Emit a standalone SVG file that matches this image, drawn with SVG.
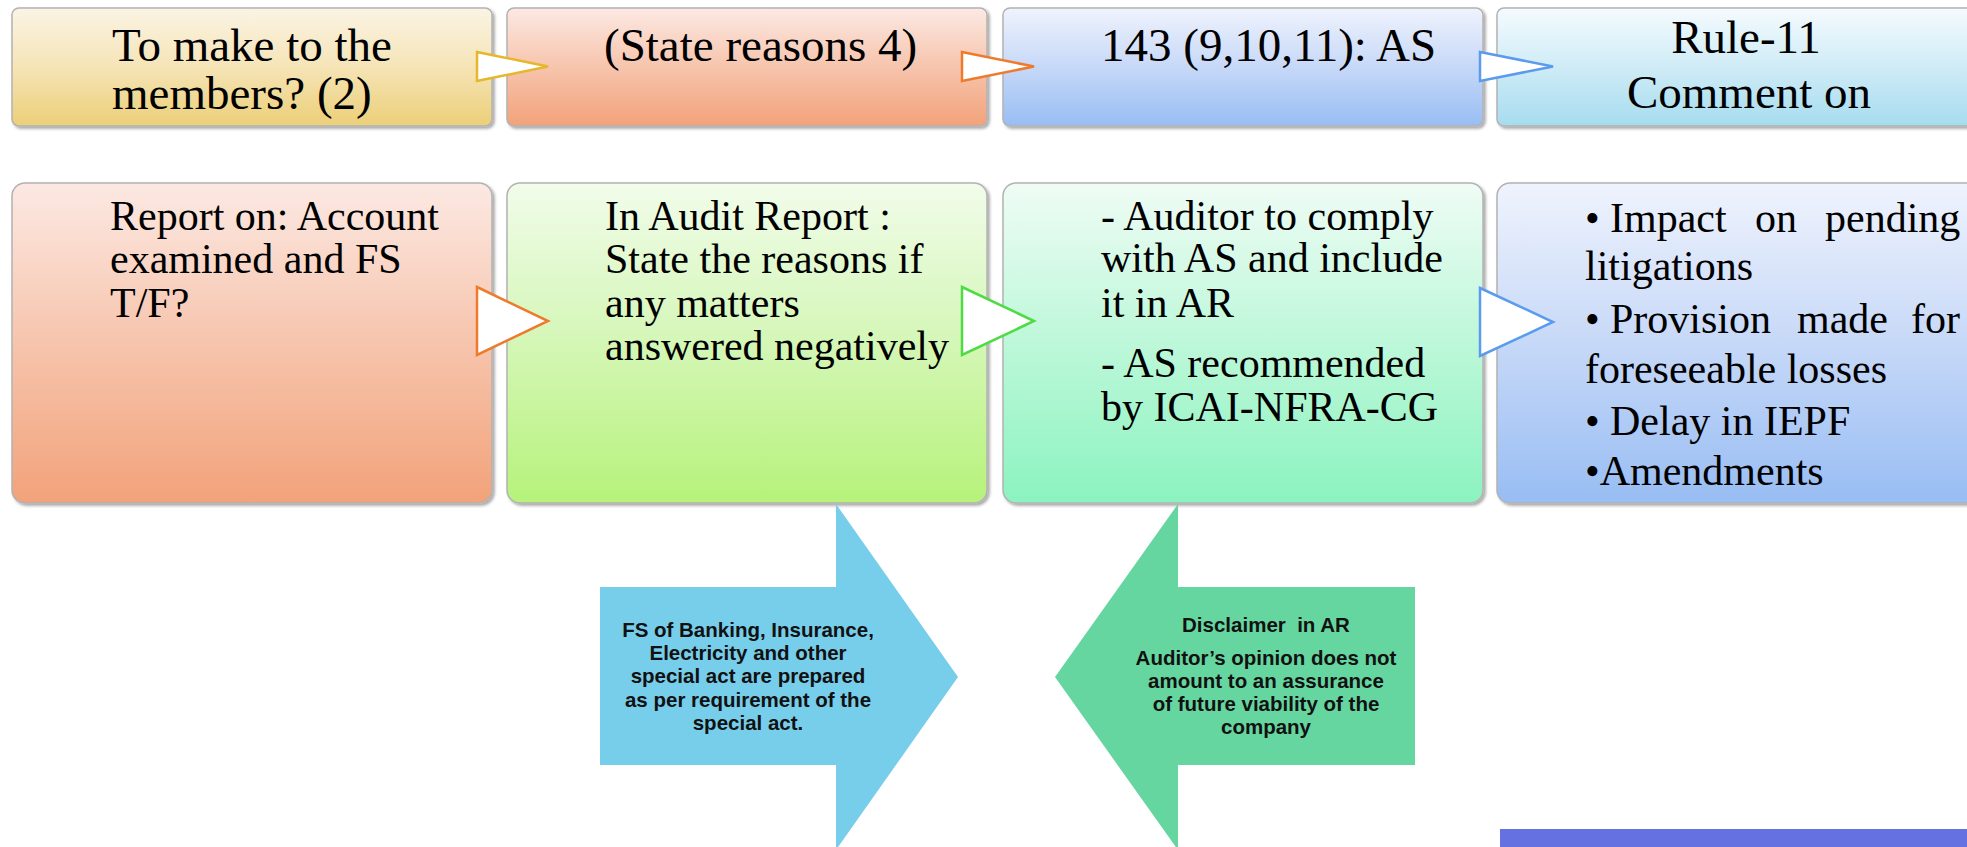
<svg xmlns="http://www.w3.org/2000/svg" width="1967" height="847" viewBox="0 0 1967 847">
  <defs>
    <filter id="shadow" x="-5%" y="-5%" width="110%" height="115%">
      <feDropShadow dx="2" dy="2" stdDeviation="1.5" flood-color="#000" flood-opacity="0.35"/>
    </filter>
    <linearGradient id="gYellow" x1="0" y1="0" x2="0" y2="1">
      <stop offset="0" stop-color="#FBF4E4"/>
      <stop offset="0.45" stop-color="#F6E6BC"/>
      <stop offset="1" stop-color="#ECCF78"/>
    </linearGradient>
    <linearGradient id="gSalmon" x1="0" y1="0" x2="0" y2="1">
      <stop offset="0" stop-color="#FCE9E3"/>
      <stop offset="0.45" stop-color="#F7C8B2"/>
      <stop offset="1" stop-color="#F2A27A"/>
    </linearGradient>
    <linearGradient id="gBlue" x1="0" y1="0" x2="0" y2="1">
      <stop offset="0" stop-color="#EFF3FD"/>
      <stop offset="0.45" stop-color="#CBDBF8"/>
      <stop offset="1" stop-color="#98BDF3"/>
    </linearGradient>
    <linearGradient id="gCyan" x1="0" y1="0" x2="0" y2="1">
      <stop offset="0" stop-color="#F5FBFE"/>
      <stop offset="0.45" stop-color="#D3EDF7"/>
      <stop offset="1" stop-color="#A6DCEF"/>
    </linearGradient>
    <linearGradient id="gGreen" x1="0" y1="0" x2="0" y2="1">
      <stop offset="0" stop-color="#F1FCEA"/>
      <stop offset="0.45" stop-color="#D7F7BC"/>
      <stop offset="1" stop-color="#B6F27A"/>
    </linearGradient>
    <linearGradient id="gMint" x1="0" y1="0" x2="0" y2="1">
      <stop offset="0" stop-color="#EFFCF5"/>
      <stop offset="0.45" stop-color="#C2F8DC"/>
      <stop offset="1" stop-color="#8BF3BF"/>
    </linearGradient>
    <style>
      .box { stroke: #B2B2B2; stroke-width: 1.5; filter: url(#shadow); }
      .serif { font-family: "Liberation Serif", "Times New Roman", serif; fill: #000; }
      .t1 { font-size: 47px; }
      .t2 { font-size: 42px; }
      .chev { fill: #FFFFFF; stroke-width: 2.5; stroke-linejoin: miter; }
      .sans { font-family: "Liberation Sans", Arial, sans-serif; font-weight: bold; fill: #111; font-size: 20.5px; text-anchor: middle; }
      .pre { white-space: pre; }
    </style>
  </defs>

  <rect width="1967" height="847" fill="#FFFFFF"/>

  <!-- upper row -->
  <g id="node-members">
    <rect class="box" x="12" y="8" width="480" height="118" rx="7" fill="url(#gYellow)"/>
    <text class="serif t1" x="112" y="61">To make to the</text>
    <text class="serif t1" x="112" y="109">members? (2)</text>
  </g>
  <g id="node-state-reasons">
    <rect class="box" x="507" y="8" width="480" height="118" rx="7" fill="url(#gSalmon)"/>
    <text class="serif t1" x="604" y="61">(State reasons 4)</text>
  </g>
  <g id="node-143">
    <rect class="box" x="1003" y="8" width="480" height="118" rx="7" fill="url(#gBlue)"/>
    <text class="serif t1" x="1101" y="61">143 (9,10,11): AS</text>
  </g>
  <g id="node-rule11">
    <rect class="box" x="1497" y="8" width="490" height="118" rx="7" fill="url(#gCyan)"/>
    <text class="serif t1" x="1746" y="53" text-anchor="middle">Rule-11</text>
    <text class="serif t1" x="1749" y="108" text-anchor="middle">Comment on</text>
  </g>

  <!-- lower row -->
  <g id="node-report-on">
    <rect class="box" x="12" y="183" width="480" height="320" rx="13" fill="url(#gSalmon)"/>
    <text class="serif t2" x="110" y="230">Report on: Account</text>
    <text class="serif t2" x="110" y="273">examined and FS</text>
    <text class="serif t2" x="110" y="317">T/F?</text>
  </g>
  <g id="node-audit-report">
    <rect class="box" x="507" y="183" width="480" height="320" rx="13" fill="url(#gGreen)"/>
    <text class="serif t2" x="605" y="230">In Audit Report :</text>
    <text class="serif t2" x="605" y="273">State the reasons if</text>
    <text class="serif t2" x="605" y="317">any matters</text>
    <text class="serif t2" x="605" y="360">answered negatively</text>
  </g>
  <g id="node-auditor-comply">
    <rect class="box" x="1003" y="183" width="480" height="320" rx="13" fill="url(#gMint)"/>
    <text class="serif t2" x="1101" y="230">- Auditor to comply</text>
    <text class="serif t2" x="1101" y="272">with AS and include</text>
    <text class="serif t2" x="1101" y="317">it in AR</text>
    <text class="serif t2" x="1101" y="377">- AS recommended</text>
    <text class="serif t2" x="1101" y="421">by ICAI-NFRA-CG</text>
  </g>
  <g id="node-comments">
    <rect class="box" x="1497" y="183" width="490" height="320" rx="13" fill="url(#gBlue)"/>
    <text class="serif t2" y="232"><tspan x="1585">•</tspan><tspan x="1610">Impact</tspan><tspan x="1755">on</tspan><tspan x="1825">pending</tspan></text>
    <text class="serif t2" x="1585" y="280">litigations</text>
    <text class="serif t2" y="333"><tspan x="1585">•</tspan><tspan x="1610">Provision</tspan><tspan x="1797">made</tspan><tspan x="1911">for</tspan></text>
    <text class="serif t2" x="1585" y="383">foreseeable losses</text>
    <text class="serif t2" y="435"><tspan x="1585">•</tspan><tspan x="1610">Delay in IEPF</tspan></text>
    <text class="serif t2" x="1585" y="485">•Amendments</text>
  </g>

  <!-- block arrows below the row -->
  <g id="node-special-act">
    <polygon points="600,587 836,587 836,504 958,677 836,850 836,765 600,765" fill="#77CEEB"/>
    <text class="sans" x="748" y="637">FS of Banking, Insurance,</text>
    <text class="sans" x="748" y="660">Electricity and other</text>
    <text class="sans" x="748" y="683">special act are prepared</text>
    <text class="sans" x="748" y="707">as per requirement of the</text>
    <text class="sans" x="748" y="730">special act.</text>
  </g>
  <g id="node-disclaimer">
    <polygon points="1415,587 1178,587 1178,504 1055,677 1178,850 1178,765 1415,765" fill="#66D6A0"/>
    <text class="sans pre" x="1266" y="632">Disclaimer  in AR</text>
    <text class="sans" x="1266" y="665">Auditor’s opinion does not</text>
    <text class="sans" x="1266" y="688">amount to an assurance</text>
    <text class="sans" x="1266" y="711">of future viability of the</text>
    <text class="sans" x="1266" y="734">company</text>
  </g>

  <!-- band at lower right -->
  <rect x="1500" y="829" width="467" height="18" fill="#6571E0"/>

  <!-- connectors -->
  <g id="connectors">
    <polygon class="chev" points="477,52 548,66.5 477,81" stroke="#E6B62C"/>
    <polygon class="chev" points="962,52 1034,66.5 962,81" stroke="#EE7B2C"/>
    <polygon class="chev" points="1480,52 1553,66.5 1480,81" stroke="#5B9BEE"/>
    <polygon class="chev" points="477,287 548,321 477,355" stroke="#EE7B2C"/>
    <polygon class="chev" points="962,287 1034,321 962,355" stroke="#4EDB44"/>
    <polygon class="chev" points="1480,288 1553,322 1480,356" stroke="#5B9BEE"/>
  </g>
</svg>
